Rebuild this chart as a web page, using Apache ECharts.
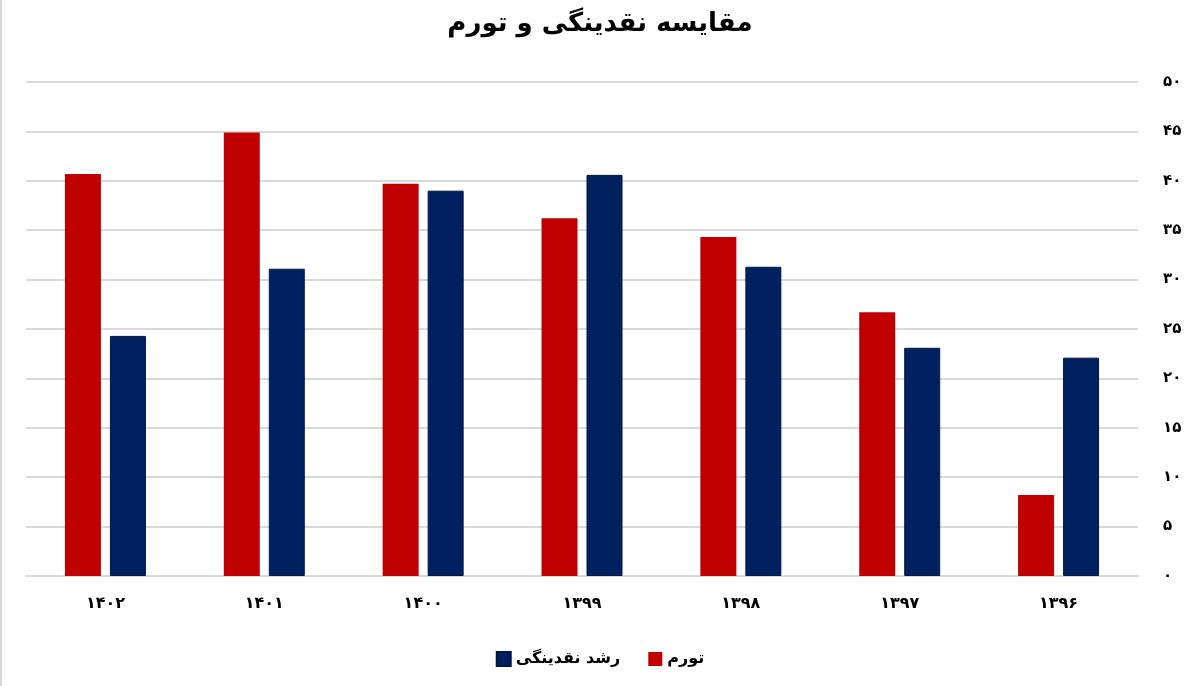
<!DOCTYPE html>
<html>
<head>
<meta charset="utf-8">
<script src="https://cdn.jsdelivr.net/npm/echarts@6/dist/echarts.min.js"></script>
<style>
  html, body { margin: 0; padding: 0; background: #fff; }
  #chart { width: 1200px; height: 686px; }
</style>
</head>
<body>
<div id="chart"></div>
<script>
// سال‌ها به ترتیب نمایش (چپ به راست)
var years = ["۱۴۰۲", "۱۴۰۱", "۱۴۰۰", "۱۳۹۹", "۱۳۹۸", "۱۳۹۷", "۱۳۹۶"];
var inflation = [40.7, 44.9, 39.7, 36.2, 34.3, 26.7, 8.2];
var liquidityGrowth = [24.3, 31.1, 39.0, 40.6, 31.3, 23.1, 22.1];
var seriesNames = ["تورم", "رشد نقدینگی"];
var legendOrder = ["رشد نقدینگی", "تورم"];

var faDigits = "۰۱۲۳۴۵۶۷۸۹";
function toFa(v) {
  return String(v).replace(/\d/g, function (d) { return faDigits[d]; });
}

var chart = echarts.init(document.getElementById("chart"));
var font = "DejaVu Sans";

var option = {
  backgroundColor: "#fff",
  title: {
    text: "مقایسه نقدینگی و تورم",
    left: "center",
    top: 6,
    textStyle: {
      fontFamily: font,
      fontWeight: "bold",
      fontSize: 26,
      color: "#000"
    }
  },
  legend: {
    data: legendOrder,
    bottom: 14,
    left: "center",
    itemWidth: 14,
    itemHeight: 14,
    itemGap: 28,
    icon: "rect",
    textStyle: {
      fontFamily: font,
      fontWeight: "bold",
      fontSize: 16,
      color: "#000"
    }
  },
  grid: {
    left: 26,
    right: 62,
    top: 82,
    bottom: 110
  },
  graphic: [
    {
      type: "rect",
      shape: { x: 0, y: 0, width: 2, height: 686 },
      style: { fill: "#d9d9d9" }
    }
  ],
  xAxis: {
    type: "category",
    data: years,
    axisTick: { show: false },
    axisLine: { lineStyle: { color: "#d9d9d9", width: 2 } },
    axisLabel: {
      margin: 20,
      fontFamily: font,
      fontWeight: "bold",
      fontSize: 16,
      color: "#000"
    }
  },
  yAxis: {
    type: "value",
    position: "right",
    min: 0,
    max: 50,
    interval: 5,
    axisLine: { show: false },
    axisTick: { show: false },
    splitLine: { lineStyle: { color: "#d9d9d9", width: 2 } },
    axisLabel: {
      margin: 25,
      fontFamily: font,
      fontWeight: "bold",
      fontSize: 15,
      color: "#000",
      formatter: function (v) { return toFa(v); }
    }
  },
  series: [
    {
      name: seriesNames[0],
      type: "bar",
      data: inflation,
      barWidth: 36,
      barGap: "25%",
      itemStyle: { color: "#c00000" }
    },
    {
      name: seriesNames[1],
      type: "bar",
      data: liquidityGrowth,
      barWidth: 36,
      barGap: "25%",
      itemStyle: { color: "#002060", borderColor: "#001848", borderWidth: 1 }
    }
  ]
};

chart.setOption(option);
</script>
</body>
</html>
